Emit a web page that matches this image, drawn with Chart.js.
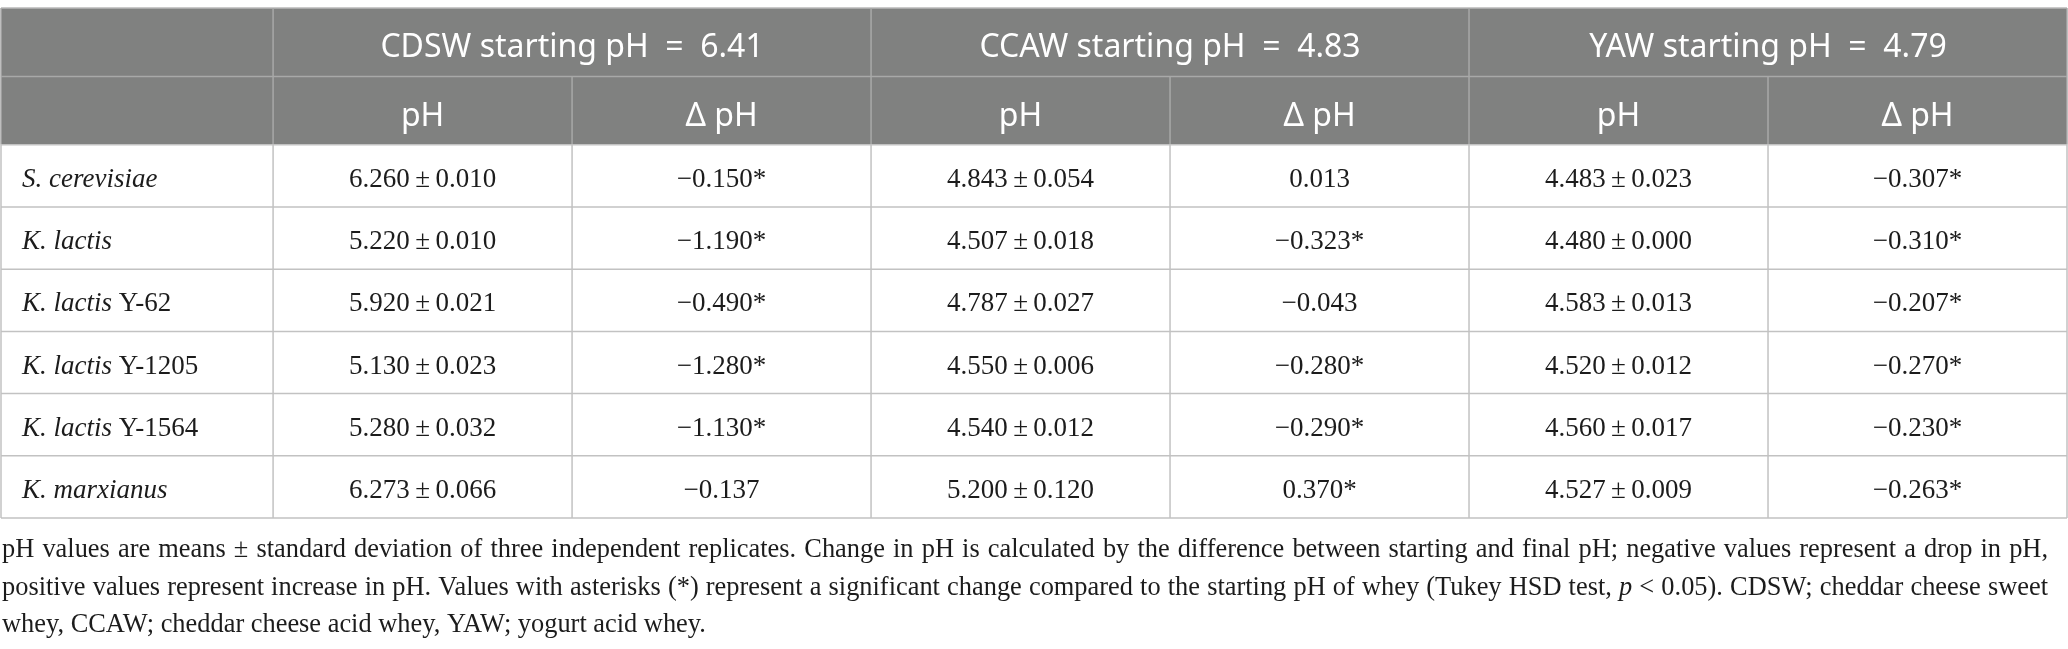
<!DOCTYPE html>
<html>
<head>
<meta charset="utf-8">
<script src="https://cdn.jsdelivr.net/npm/chart.js@4.4.1/dist/chart.umd.min.js"></script>
<style>
  html, body { margin: 0; padding: 0; background: #fff; }
  #wrap { width: 2068px; height: 649px; position: relative; }
</style>
</head>
<body>
<div id="wrap"><canvas id="phTable"></canvas></div>
<script>
/* ================= DATA ================= */

const wheyNames = ["CDSW", "CCAW", "YAW"];
const startingPH = [6.41, 4.83, 4.79];
const subHeaders = ["pH", "\u0394 pH"];

const species = ["S. cerevisiae", "K. lactis", "K. lactis", "K. lactis", "K. lactis", "K. marxianus"];
const strainIds = ["", "", "Y-62", "Y-1205", "Y-1564", ""];

const cdswPH    = [6.260, 5.220, 5.920, 5.130, 5.280, 6.273];
const cdswSD    = [0.010, 0.010, 0.021, 0.023, 0.032, 0.066];
const cdswDelta = [-0.150, -1.190, -0.490, -1.280, -1.130, -0.137];
const cdswSig   = [true, true, true, true, true, false];

const ccawPH    = [4.843, 4.507, 4.787, 4.550, 4.540, 5.200];
const ccawSD    = [0.054, 0.018, 0.027, 0.006, 0.012, 0.120];
const ccawDelta = [0.013, -0.323, -0.043, -0.280, -0.290, 0.370];
const ccawSig   = [false, true, false, true, true, true];

const yawPH     = [4.483, 4.480, 4.583, 4.520, 4.560, 4.527];
const yawSD     = [0.023, 0.000, 0.013, 0.012, 0.017, 0.009];
const yawDelta  = [-0.307, -0.310, -0.207, -0.270, -0.230, -0.263];
const yawSig    = [true, true, true, true, true, true];

/* footnote, one array per printed line; italic parts flagged */
const footLines = [
  [{ t: "pH values are means \u00b1 standard deviation of three independent replicates. Change in pH is calculated by the difference between starting and final pH; negative values represent a drop in pH," }],
  [{ t: "positive values represent increase in pH. Values with asterisks (*) represent a significant change compared to the starting pH of whey (Tukey HSD test, " },
   { t: "p", it: true },
   { t: " < 0.05). CDSW; cheddar cheese sweet" }],
  [{ t: "whey, CCAW; cheddar cheese acid whey, YAW; yogurt acid whey." }]
];

/* ================= TABLE GEOMETRY (scale units) ================= */

const FIRST_COL = 0.91;   // label column width, in data-column units
const HEAD_ROW = 1.1;     // header row height, in body-row units
const NROWS = species.length;
const BODY_TOP = 2 * HEAD_ROW;

const SANS = "'Noto Sans', 'Open Sans', sans-serif";
const SERIF = "'Liberation Serif', 'DejaVu Serif', serif";

function fmt(v) {
  return (v < 0 ? "\u2212" : "") + Math.abs(v).toFixed(3);
}

/* ================= CELL POINTS ================= */

const groups = [
  { ph: cdswPH, sd: cdswSD, delta: cdswDelta, sig: cdswSig },
  { ph: ccawPH, sd: ccawSD, delta: ccawDelta, sig: ccawSig },
  { ph: yawPH, sd: yawSD, delta: yawDelta, sig: yawSig }
];

const headerPoints = [];
wheyNames.forEach((name, g) => {
  headerPoints.push({
    x: g * 2 + 1, y: HEAD_ROW / 2,
    text: name + " starting pH\u00a0\u00a0=\u00a0\u00a0" + startingPH[g].toFixed(2)
  });
  subHeaders.forEach((s, k) => {
    headerPoints.push({ x: g * 2 + k + 0.5, y: HEAD_ROW * 1.5, text: s });
  });
});

const bodyPoints = [];
const labelPoints = [];
species.forEach((sp, r) => {
  const yc = BODY_TOP + r + 0.5;
  labelPoints.push({ x: -FIRST_COL, y: yc, sp: sp, id: strainIds[r] });
  groups.forEach((grp, g) => {
    bodyPoints.push({
      x: g * 2 + 0.5, y: yc,
      text: fmt(grp.ph[r]) + "\u2009\u00b1\u2009" + fmt(grp.sd[r])
    });
    bodyPoints.push({
      x: g * 2 + 1.5, y: yc,
      text: fmt(grp.delta[r]) + (grp.sig[r] ? "*" : "")
    });
  });
});

/* ================= DRAWING PLUGIN ================= */

function setFont(ctx, it, size) {
  ctx.font = (it ? "italic " : "") + size + "px " + SERIF;
}

function drawRich(ctx, segs, x, y, size, align) {
  let total = 0;
  const w = segs.map(s => {
    setFont(ctx, s.it, size);
    const m = ctx.measureText(s.t).width;
    total += m;
    return m;
  });
  let cx = align === "center" ? x - total / 2 : x;
  ctx.textAlign = "left";
  segs.forEach((s, i) => {
    setFont(ctx, s.it, size);
    ctx.fillText(s.t, cx, y);
    cx += w[i];
  });
}

// justified line: extra room goes into the word gaps
function drawJustified(ctx, segs, x, y, size, width) {
  const words = [];
  segs.forEach(s => {
    s.t.split(/( )/).forEach(part => {
      if (part !== "") words.push({ t: part, it: s.it });
    });
  });
  let natural = 0, gaps = 0;
  words.forEach(wd => {
    setFont(ctx, wd.it, size);
    wd.w = ctx.measureText(wd.t).width;
    natural += wd.w;
    if (wd.t === " ") gaps++;
  });
  const extra = gaps ? (width - natural) / gaps : 0;
  let cx = x;
  ctx.textAlign = "left";
  words.forEach(wd => {
    setFont(ctx, wd.it, size);
    if (wd.t !== " ") ctx.fillText(wd.t, cx, y);
    cx += wd.w + (wd.t === " " ? extra : 0);
  });
}

const tablePlugin = {
  id: "tablePlugin",
  beforeDatasetsDraw(chart) {
    const ctx = chart.ctx;
    const xs = chart.scales.x, ys = chart.scales.y;
    const X = v => xs.getPixelForValue(v);
    const Y = v => ys.getPixelForValue(v);
    const x0 = X(-FIRST_COL), x1 = X(6);
    const yTop = Y(0), yHead = Y(BODY_TOP);

    ctx.save();
    // header band
    ctx.fillStyle = "#808180";
    ctx.fillRect(x0, yTop, x1 - x0, yHead - yTop);

    ctx.lineWidth = 1.5;
    const hline = (v, a, b, c) => {
      ctx.strokeStyle = c;
      ctx.beginPath(); ctx.moveTo(X(a), Y(v)); ctx.lineTo(X(b), Y(v)); ctx.stroke();
    };
    const vline = (v, a, b, c) => {
      ctx.strokeStyle = c;
      ctx.beginPath(); ctx.moveTo(X(v), Y(a)); ctx.lineTo(X(v), Y(b)); ctx.stroke();
    };

    const headLine = "#a8a9a8";
    const bodyLine = "#c2c2c2";

    // header lines
    hline(0, -FIRST_COL, 6, "#b8b8b8");
    hline(HEAD_ROW, -FIRST_COL, 6, headLine);
    [-FIRST_COL, 0, 2, 4, 6].forEach(v => vline(v, 0, BODY_TOP, headLine));
    [1, 3, 5].forEach(v => vline(v, HEAD_ROW, BODY_TOP, headLine));

    // body lines
    for (let r = 0; r <= NROWS; r++) hline(BODY_TOP + r, -FIRST_COL, 6, bodyLine);
    [-FIRST_COL, 0, 1, 2, 3, 4, 5, 6].forEach(v => vline(v, BODY_TOP, BODY_TOP + NROWS, bodyLine));
    ctx.restore();
  },
  afterDatasetsDraw(chart) {
    const ctx = chart.ctx;
    ctx.save();
    ctx.textBaseline = "alphabetic";

    // header texts
    const hMeta = chart.getDatasetMeta(0);
    ctx.fillStyle = "#ffffff";
    ctx.font = "32px " + SANS;
    ctx.textAlign = "center";
    hMeta.data.forEach((el, i) => {
      ctx.fillText(headerPoints[i].text, el.x, el.y + 15);
    });

    // body texts
    ctx.fillStyle = "#1c1c1c";
    const bMeta = chart.getDatasetMeta(1);
    bMeta.data.forEach((el, i) => {
      drawRich(ctx, [{ t: bodyPoints[i].text }], el.x, el.y + 11, 27, "center");
    });

    // row labels
    const lMeta = chart.getDatasetMeta(2);
    lMeta.data.forEach((el, i) => {
      const p = labelPoints[i];
      const segs = [{ t: p.sp, it: true }];
      if (p.id) segs.push({ t: " " + p.id });
      drawRich(ctx, segs, el.x + 21, el.y + 11, 27, "left");
    });

    // footnote (justified except the last line)
    const left = chart.chartArea.left + 1;
    const base = chart.chartArea.bottom + 39;
    const fullW = 2046;
    footLines.forEach((line, i) => {
      const y = base + i * 37.5;
      if (i < footLines.length - 1) drawJustified(ctx, line, left, y, 26.4, fullW);
      else drawRich(ctx, line, left, y, 26.4, "left");
    });
    ctx.restore();
  }
};

/* ================= CHART ================= */

const pointSet = data => ({ data: data, pointRadius: 0, pointHoverRadius: 0, showLine: false });

new Chart(document.getElementById("phTable"), {
  type: "scatter",
  data: {
    datasets: [pointSet(headerPoints), pointSet(bodyPoints), pointSet(labelPoints)]
  },
  options: {
    responsive: true,
    maintainAspectRatio: false,
    devicePixelRatio: 1,
    animation: false,
    events: [],
    layout: { padding: { top: 8, bottom: 131, left: 1, right: 1 } },
    plugins: {
      legend: { display: false },
      tooltip: { enabled: false },
      title: { display: false }
    },
    scales: {
      x: { type: "linear", min: -FIRST_COL, max: 6, display: false },
      y: { type: "linear", min: 0, max: BODY_TOP + NROWS, reverse: true, display: false }
    }
  },
  plugins: [tablePlugin]
});
</script>
</body>
</html>
